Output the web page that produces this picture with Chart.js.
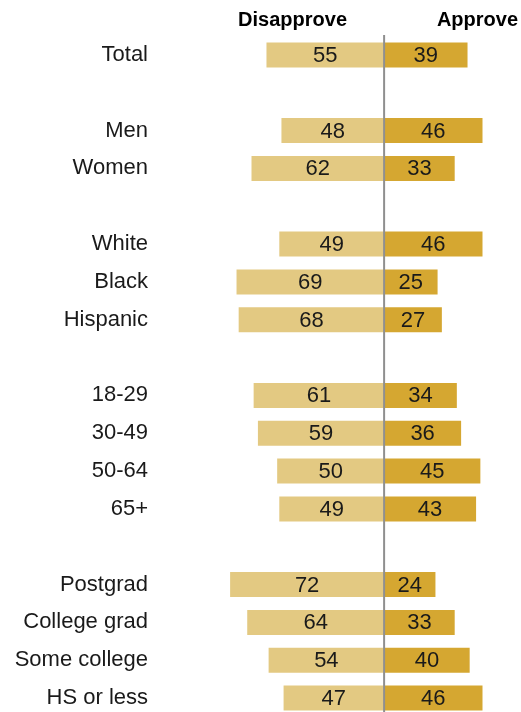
<!DOCTYPE html>
<html>
<head>
<meta charset="utf-8">
<script src="https://cdn.jsdelivr.net/npm/chart.js@4/dist/chart.umd.min.js"></script>
<style>
  html, body { margin: 0; padding: 0; overflow: hidden; background: #fff; }
  #wrap { width: 521px; height: 720px; }
</style>
</head>
<body>
<div id="wrap"><canvas id="chart" width="521" height="720"></canvas></div>
<script>
// groups separated by blank rows
var categories = ['Total', '', 'Men', 'Women', '', 'White', 'Black', 'Hispanic', '',
    '18-29', '30-49', '50-64', '65+', '', 'Postgrad', 'College grad', 'Some college', 'HS or less'];
var disapprove = [55, null, 48, 62, null, 49, 69, 68, null, 61, 59, 50, 49, null, 72, 64, 54, 47];
var approve = [39, null, 46, 33, null, 46, 25, 27, null, 34, 36, 45, 43, null, 24, 33, 40, 46];
var headers = ['Disapprove', 'Approve'];

var fontFamily = "'Liberation Sans', Arial, sans-serif";

var valueLabels = {
    id: 'valueLabels',
    afterDatasetsDraw: function(chart) {
        var ctx = chart.ctx;
        ctx.save();
        ctx.font = '22px ' + fontFamily;
        ctx.fillStyle = '#1a1a1a';
        ctx.textAlign = 'center';
        ctx.textBaseline = 'middle';
        chart.data.datasets.forEach(function(ds, i) {
            chart.getDatasetMeta(i).data.forEach(function(bar, j) {
                var v = ds.data[j];
                if (v === null) return;
                ctx.fillText(String(Math.abs(v)), (bar.x + bar.base) / 2, bar.y + 1);
            });
        });
        // zero line
        var x0 = chart.scales.x.getPixelForValue(0);
        ctx.strokeStyle = '#8f8f8f';
        ctx.lineWidth = 2;
        ctx.beginPath();
        ctx.moveTo(x0, chart.chartArea.top - 1);
        ctx.lineTo(x0, chart.chartArea.bottom);
        ctx.stroke();
        // column headers
        ctx.font = 'bold 20px ' + fontFamily;
        ctx.fillStyle = '#000';
        ctx.textAlign = 'right';
        ctx.fillText(headers[0], 347, 20);
        ctx.fillText(headers[1], 518, 20);
        ctx.restore();
    }
};

var ctx = document.getElementById('chart').getContext('2d');
new Chart(ctx, {
    type: 'bar',
    data: {
        labels: categories,
        datasets: [{
            label: headers[0],
            data: disapprove.map(function(v) { return v === null ? null : -v; }),
            backgroundColor: '#e3c982',
            categoryPercentage: 0.66,
            barPercentage: 1
        }, {
            label: headers[1],
            data: approve,
            backgroundColor: '#d5a731',
            categoryPercentage: 0.66,
            barPercentage: 1
        }]
    },
    options: {
        indexAxis: 'y',
        responsive: false,
        animation: false,
        layout: { padding: { top: 36, bottom: 3, left: 0, right: 0 } },
        plugins: {
            legend: { display: false },
            tooltip: { enabled: false }
        },
        scales: {
            x: {
                stacked: true,
                display: false,
                min: -80,
                max: 64
            },
            y: {
                stacked: true,
                grid: { display: false, drawTicks: false },
                border: { display: false },
                ticks: {
                    padding: 65,
                    color: '#1a1a1a',
                    font: { size: 22, family: fontFamily }
                },
                afterFit: function(scale) {
                    scale.width = 213;
                    scale.paddingTop = 0;
                    scale.paddingBottom = 0;
                }
            }
        }
    },
    plugins: [valueLabels]
});
</script>
</body>
</html>
